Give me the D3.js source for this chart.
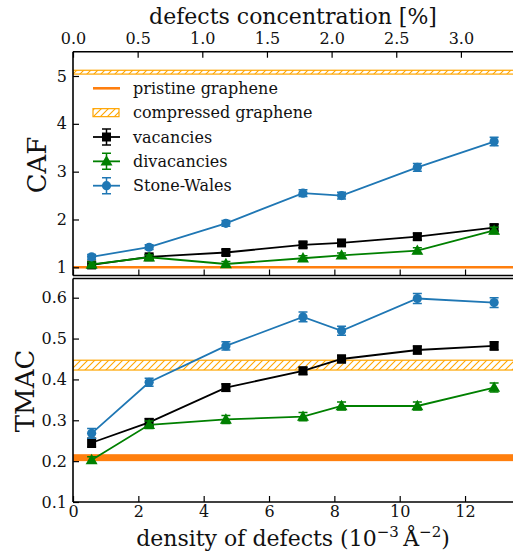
<!DOCTYPE html>
<html>
<head>
<meta charset="utf-8">
<script src="https://cdn.jsdelivr.net/npm/d3@7.9.0/dist/d3.min.js"></script>
<style>
  body { margin: 0; background: #fff; }
  svg text { font-family: "DejaVu Serif", "Liberation Serif", serif !important; }
</style>
</head>
<body>
<svg id="chart" width="513" height="552"></svg>
<script>
// density of defects (10^-3 A^-2)
const density = [0.57, 2.33, 4.68, 7.04, 8.22, 10.54, 12.89];

// CAF (top panel)
const cafVacancies = [1.05, 1.22, 1.31, 1.47, 1.51, 1.64, 1.83];
const cafVacErr = [0.05, 0.05, 0.06, 0.06, 0.06, 0.07, 0.07];
const cafDivacancies = [1.06, 1.21, 1.07, 1.19, 1.25, 1.35, 1.77];
const cafDivErr = [0.05, 0.05, 0.05, 0.05, 0.05, 0.06, 0.07];
const cafStoneWales = [1.22, 1.42, 1.92, 2.55, 2.50, 3.09, 3.63];
const cafSwErr = [0.05, 0.05, 0.06, 0.07, 0.07, 0.08, 0.09];
const cafPristine = 1.0;
const cafCompressed = [5.04, 5.12];

// TMAC (bottom panel)
const tmacVacancies = [0.245, 0.295, 0.380, 0.421, 0.450, 0.472, 0.482];
const tmacVacErr = [0.011, 0.009, 0.009, 0.009, 0.009, 0.010, 0.010];
const tmacDivacancies = [0.203, 0.289, 0.302, 0.309, 0.335, 0.335, 0.380];
const tmacDivErr = [0.008, 0.009, 0.010, 0.010, 0.010, 0.010, 0.011];
const tmacStoneWales = [0.268, 0.393, 0.482, 0.553, 0.519, 0.598, 0.588];
const tmacSwErr = [0.012, 0.010, 0.010, 0.012, 0.011, 0.012, 0.012];
const tmacPristine = [0.200, 0.217];
const tmacCompressed = [0.423, 0.447];

const densityTicks = [0, 2, 4, 6, 8, 10, 12];
const concTicks = [0.0, 0.5, 1.0, 1.5, 2.0, 2.5, 3.0];
const cafTicks = [1, 2, 3, 4, 5];
const tmacTicks = [0.1, 0.2, 0.3, 0.4, 0.5, 0.6];

const legendLabels = ["pristine graphene", "compressed graphene", "vacancies", "divacancies", "Stone-Wales"];

const ORANGE = "#ff7f0e";
const HATCH = "#ffa500";
const BLUE = "#1f77b4";
const GREEN = "#008000";
const FONT = "'DejaVu Serif', 'Liberation Serif', serif";
const TICK_FS = 16;

const svg = d3.select("#chart").attr("font-family", FONT);

const defs = svg.append("defs");
defs.append("pattern")
  .attr("id", "hatch")
  .attr("patternUnits", "userSpaceOnUse")
  .attr("width", 7).attr("height", 7)
  .append("path")
  .attr("d", "M0,7 L7,0 M-1,1 L1,-1 M6,8 L8,6")
  .attr("stroke", HATCH).attr("stroke-width", 1.1);

const left = 73, right = 515;
const x = d3.scaleLinear().domain([0, (right - left) / 32.67]).range([left, right]);
const xTop = d3.scaleLinear().domain([0, (right - left) / 129.3]).range([left, right]);

const yCaf = d3.scaleLinear().domain([0.829, 5.508]).range([275.5, 51.7]);
const yTmac = d3.scaleLinear().domain([0.1, 0.647]).range([502, 278.5]);

defs.append("clipPath").attr("id", "clipTop")
  .append("rect").attr("x", left).attr("y", 51.7).attr("width", right - left).attr("height", 275.5 - 51.7);
defs.append("clipPath").attr("id", "clipBot")
  .append("rect").attr("x", left).attr("y", 278.5).attr("width", right - left).attr("height", 502 - 278.5);

const series = [
  { name: "vacancies", color: "black", shape: "square" },
  { name: "divacancies", color: GREEN, shape: "triangle" },
  { name: "Stone-Wales", color: BLUE, shape: "circle" }
];

function marker(g, shape, color, cx, cy) {
  if (shape === "square") {
    g.append("rect").attr("x", cx - 4.5).attr("y", cy - 4.5)
      .attr("width", 9).attr("height", 9).attr("fill", color);
  } else if (shape === "triangle") {
    g.append("path")
      .attr("d", d3.symbol(d3.symbolTriangle, 62)())
      .attr("transform", `translate(${cx},${cy + 0.8})`)
      .attr("fill", color);
  } else {
    g.append("circle").attr("cx", cx).attr("cy", cy).attr("r", 4.6).attr("fill", color);
  }
}

function drawSeries(g, y, values, errs, s) {
  const line = d3.line().x((d, i) => x(density[i])).y((d) => y(d));
  g.append("path").datum(values)
    .attr("d", line).attr("fill", "none")
    .attr("stroke", s.color).attr("stroke-width", 1.8);
  values.forEach((v, i) => {
    const cx = x(density[i]);
    const y0 = y(v - errs[i]), y1 = y(v + errs[i]);
    g.append("path")
      .attr("d", `M${cx},${y0}V${y1}M${cx - 4.5},${y0}H${cx + 4.5}M${cx - 4.5},${y1}H${cx + 4.5}`)
      .attr("stroke", s.color).attr("stroke-width", 1.5).attr("fill", "none");
    marker(g, s.shape, s.color, cx, y(v));
  });
}

function band(g, y, lo, hi, fill, stroke) {
  g.append("rect")
    .attr("x", left).attr("width", right - left)
    .attr("y", y(hi)).attr("height", y(lo) - y(hi))
    .attr("fill", fill).attr("stroke", stroke || "none").attr("stroke-width", 1.2);
}

// ---- top panel (CAF)
const gTop = svg.append("g").attr("clip-path", "url(#clipTop)");
band(gTop, yCaf, cafCompressed[0], cafCompressed[1], "url(#hatch)", HATCH);
gTop.append("line")
  .attr("x1", left).attr("x2", right)
  .attr("y1", yCaf(cafPristine)).attr("y2", yCaf(cafPristine))
  .attr("stroke", ORANGE).attr("stroke-width", 2.6);
drawSeries(gTop, yCaf, cafVacancies, cafVacErr, series[0]);
drawSeries(gTop, yCaf, cafDivacancies, cafDivErr, series[1]);
drawSeries(gTop, yCaf, cafStoneWales, cafSwErr, series[2]);

// ---- bottom panel (TMAC)
const gBot = svg.append("g").attr("clip-path", "url(#clipBot)");
band(gBot, yTmac, tmacCompressed[0], tmacCompressed[1], "url(#hatch)", HATCH);
band(gBot, yTmac, tmacPristine[0], tmacPristine[1], ORANGE);
drawSeries(gBot, yTmac, tmacVacancies, tmacVacErr, series[0]);
drawSeries(gBot, yTmac, tmacDivacancies, tmacDivErr, series[1]);
drawSeries(gBot, yTmac, tmacStoneWales, tmacSwErr, series[2]);

// ---- axes
function styleAxis(g) {
  g.attr("font-family", FONT);
  g.select(".domain").remove();
  g.selectAll(".tick line").attr("stroke", "black").attr("stroke-width", 1.2);
  g.selectAll(".tick text").attr("font-size", TICK_FS).attr("fill", "#111");
}

// top concentration axis (ticks inward)
svg.append("g").attr("transform", "translate(0,51.7)")
  .call(d3.axisTop(xTop).tickValues(concTicks).tickFormat(d3.format(".1f")).tickSizeInner(-6).tickSizeOuter(0).tickPadding(8))
  .call(styleAxis);

// top panel bottom ticks (no labels)
svg.append("g").attr("transform", "translate(0,275.5)")
  .call(d3.axisBottom(x).tickValues(densityTicks).tickFormat("").tickSizeInner(-6).tickSizeOuter(0))
  .call(styleAxis);

// bottom density axis
svg.append("g").attr("transform", "translate(0,502)")
  .call(d3.axisBottom(x).tickValues(densityTicks).tickFormat(d3.format("d")).tickSizeInner(-6).tickSizeOuter(0).tickPadding(3.5))
  .call(styleAxis);

svg.append("g").attr("transform", `translate(${left},0)`)
  .call(d3.axisLeft(yCaf).tickValues(cafTicks).tickFormat(d3.format("d")).tickSizeInner(-6).tickSizeOuter(0).tickPadding(6))
  .call(styleAxis);

svg.append("g").attr("transform", `translate(${left},0)`)
  .call(d3.axisLeft(yTmac).tickValues(tmacTicks).tickFormat(d3.format(".1f")).tickSizeInner(-6).tickSizeOuter(0).tickPadding(6))
  .call(styleAxis);

// spines
const spine = (x1, y1, x2, y2) => svg.append("line")
  .attr("x1", x1).attr("y1", y1).attr("x2", x2).attr("y2", y2)
  .attr("stroke", "black").attr("stroke-width", 1.6);
spine(left, 51.7, right, 51.7);
spine(left, 275.5, right, 275.5);
spine(left, 51.7, left, 275.5);
spine(left, 278.5, right, 278.5);
spine(left, 502, right, 502);
spine(left, 278.5, left, 502);

// ---- axis labels
svg.append("text").attr("x", 293).attr("y", 24).attr("text-anchor", "middle")
  .attr("font-size", 22).attr("fill", "#111").text("defects concentration [%]");

svg.append("text").attr("transform", "translate(46,165) rotate(-90)")
  .attr("text-anchor", "middle").attr("font-size", 26).attr("fill", "#111").text("CAF");

svg.append("text").attr("transform", "translate(33.5,391) rotate(-90)")
  .attr("text-anchor", "middle").attr("font-size", 26).attr("fill", "#111").text("TMAC");

const xl = svg.append("text").attr("x", 293).attr("y", 546).attr("text-anchor", "middle")
  .attr("font-size", 22).attr("fill", "#111");
xl.append("tspan").text("density of defects (10");
xl.append("tspan").attr("dy", -9).attr("font-size", 15).text("\u22123");
xl.append("tspan").attr("dy", 9).text("\u2009\u00c5");
xl.append("tspan").attr("dy", -9).attr("font-size", 15).text("\u22122");
xl.append("tspan").attr("dy", 9).text(")");

// ---- legend
const leg = svg.append("g");
const rowY = (i) => 88.3 + i * 24.35;
const lx0 = 93, lx1 = 120, ltx = 133;

leg.append("line").attr("x1", lx0).attr("x2", lx1).attr("y1", rowY(0)).attr("y2", rowY(0))
  .attr("stroke", ORANGE).attr("stroke-width", 2.6);
leg.append("rect").attr("x", lx0).attr("y", rowY(1) - 4).attr("width", lx1 - lx0 - 1).attr("height", 8)
  .attr("fill", "url(#hatch)").attr("stroke", HATCH).attr("stroke-width", 1.2);

series.forEach((s, k) => {
  const cy = rowY(k + 2);
  const cx = (lx0 + lx1) / 2;
  leg.append("line").attr("x1", lx0).attr("x2", lx1).attr("y1", cy).attr("y2", cy)
    .attr("stroke", s.color).attr("stroke-width", 1.8);
  leg.append("path")
    .attr("d", `M${cx},${cy - 8}V${cy + 8}M${cx - 4.5},${cy - 8}H${cx + 4.5}M${cx - 4.5},${cy + 8}H${cx + 4.5}`)
    .attr("stroke", s.color).attr("stroke-width", 1.5);
  marker(leg, s.shape, s.color, cx, cy);
});

legendLabels.forEach((t, i) => {
  leg.append("text").attr("x", ltx).attr("y", rowY(i) + 5.5)
    .attr("font-size", 16).attr("fill", "#111").text(t);
});
</script>
</body>
</html>
